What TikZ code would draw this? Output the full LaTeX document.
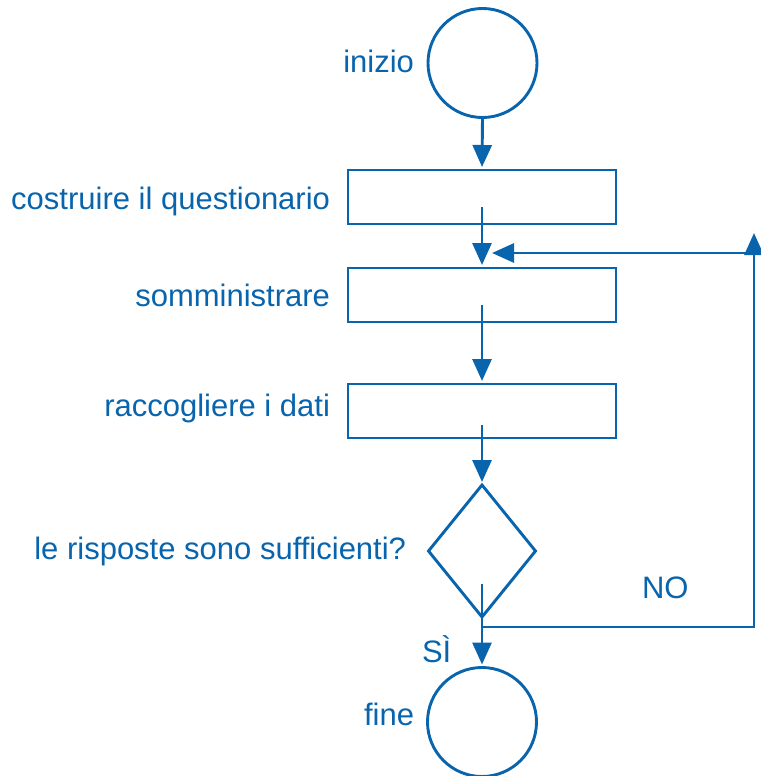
\documentclass[tikz,border=0pt]{standalone}
\usepackage{fontspec}
\setmainfont{Liberation Sans}
\usetikzlibrary{arrows.meta,shapes.geometric}
\definecolor{flowblue}{RGB}{8,100,172}
\begin{document}
\begin{tikzpicture}[x=1pt,y=-1pt,
  line width=2.9pt, draw=flowblue,
  every node/.style={inner sep=0pt, outer sep=0pt},
  terminal/.style={circle, draw=flowblue, minimum size=109pt},
  process/.style={rectangle, draw=flowblue, minimum width=268pt, minimum height=54pt},
  decision/.style={diamond, draw=flowblue, minimum width=107pt, minimum height=132pt},
  lbl/.style={text=flowblue, font=\fontsize{31}{37}\selectfont, anchor=base east},
  head/.style={-{Triangle[length=22pt 0 0,width=19pt 0 0]}},
  flow/.style={draw=flowblue, head, shorten >=3pt}]
  \useasboundingbox (0,0) rectangle (760,776);

  % shapes of the chart
  \node[terminal] (start) at (482.5,63) {};
  \node[process]  (build) at (482,197) {};
  \node[process]  (admin) at (482,295) {};
  \node[process]  (collect) at (482,411) {};
  \node[decision] (check) at (482,551) {};
  \node[terminal] (stop) at (482,722) {};

  % labels beside the shapes
  \node[lbl] (tstart) at (414,73) {inizio};
  \node[lbl] (tbuild) at (330,209) {costruire il questionario};
  \node[lbl] (tadmin) at (330,306) {somministrare};
  \node[lbl] (tcollect) at (330,416) {raccogliere i dati};
  \node[lbl] (tcheck) at (406,559) {le risposte sono sufficienti?};
  \node[lbl, anchor=base west] (tyes) at (422,662) {SÌ};
  \node[lbl, anchor=base west] (tno) at (642,598) {NO};
  \node[lbl] (tstop) at (414,725) {fine};

  % connector starting points inside the shapes
  \coordinate (b1) at (482,207);
  \coordinate (a1) at (482,305);
  \coordinate (c1) at (482,425);
  \coordinate (d1) at (482,584);
  \coordinate (split) at (482,627);
  \coordinate (corner) at (754,627);
  \coordinate (top) at (754,233);
  \coordinate (back) at (754,253);
  \coordinate (join) at (492,253);

  % main flow
  \draw[flow] (start.south) -- (build.north);
  \draw[flow] (b1) -- (admin.north);
  \draw[flow] (a1) -- (collect.north);
  \draw[flow] (c1) -- (check.north);
  \draw[flow] (d1) -- (stop.north);

  % loop back when answers are not enough
  \draw[draw=flowblue, head] (split) -- (corner) -- (top);
  \draw[draw=flowblue, head] (back) -- (join);
\end{tikzpicture}
\end{document}
